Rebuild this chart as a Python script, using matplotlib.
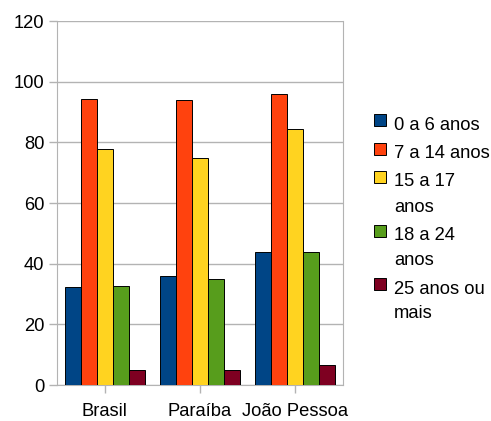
import matplotlib.pyplot as plt
from matplotlib.patches import Rectangle
import numpy as np

plt.rcParams['font.family'] = ['Liberation Sans', 'DejaVu Sans']

# data
regions = ['Brasil', 'Paraíba', 'João Pessoa']
series = ['0 a 6 anos', '7 a 14 anos', '15 a 17\nanos', '18 a 24\nanos', '25 anos ou\nmais']
values = {
    '0 a 6 anos': [32.2, 36.0, 43.7],
    '7 a 14 anos': [94.4, 94.0, 96.0],
    '15 a 17\nanos': [77.8, 75.0, 84.5],
    '18 a 24\nanos': [32.7, 34.9, 43.7],
    '25 anos ou\nmais': [4.9, 5.0, 6.6],
}
colors = ['#004586', '#ff420e', '#ffd320', '#579d1c', '#7e0021']

W, H = 491, 421
fs = 13.2
fig = plt.figure(figsize=(W / 100, H / 100), dpi=100)
ax = fig.add_axes([57 / W, 36 / H, 286 / W, 364 / H])

x = np.arange(len(regions))
bw = 0.168
for i, s in enumerate(series):
    ax.bar(x + (i - 2) * bw, values[s], bw, color=colors[i],
           edgecolor='black', linewidth=0.7, zorder=3)

grey = '#b3b3b3'
ax.set_xlim(-0.5, 2.5)
ax.set_ylim(0, 120)
ax.set_yticks(range(0, 121, 20))
ax.set_xticks(x)
ax.set_xticklabels(regions)
ax.yaxis.grid(True, color=grey, linewidth=1, zorder=0)
for sp in ax.spines.values():
    sp.set_color(grey)
ax.spines['top'].set_visible(False)
ax.tick_params(axis='both', color=grey, length=6, width=1, labelsize=fs)
ax.tick_params(axis='y', pad=3)
ax.tick_params(axis='x', pad=7)

# legend with wrapped labels, handle aligned to first line
line_h = 25      # between wrapped lines
entry_gap = 28.5  # between entries
yc = H - 125
for i, s in enumerate(series):
    fig.add_artist(Rectangle((374 / W, (yc - 1) / H), 12 / W, 12 / H,
                             transform=fig.transFigure, facecolor=colors[i],
                             edgecolor='black', linewidth=0.7))
    lines = s.split('\n')
    for j, line in enumerate(lines):
        fig.text(394 / W, (yc - j * line_h) / H, line, fontsize=fs, va='center', ha='left')
    yc -= (len(lines) - 1) * line_h + entry_gap

fig.savefig('out.png', dpi=100)
